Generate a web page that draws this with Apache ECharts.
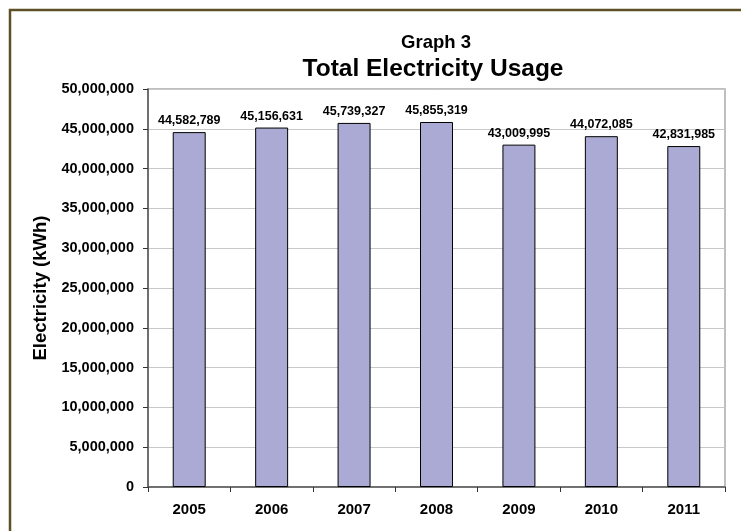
<!DOCTYPE html>
<html>
<head>
<meta charset="utf-8">
<script src="https://cdn.jsdelivr.net/npm/echarts@6/dist/echarts.min.js"></script>
<style>
html,body{margin:0;padding:0;background:#fff;}
#chart{width:741px;height:531px;}
</style>
</head>
<body>
<div id="chart"></div>
<script>
const categories = ['2005','2006','2007','2008','2009','2010','2011'];
const usage = [44582789, 45156631, 45739327, 45855319, 43009995, 44072085, 42831985];
const yTicks = { min: 0, max: 50000000, interval: 5000000 };
const titleLine1 = 'Graph 3';
const titleLine2 = 'Total Electricity Usage';
const yName = 'Electricity (kWh)';

const fmt = v => Number(v).toLocaleString('en-US');
const font = 'Liberation Sans, Arial, sans-serif';

const chart = echarts.init(document.getElementById('chart'));
chart.setOption({
  backgroundColor: '#fff',
  animation: false,
  title: [
    { text: titleLine1, left: 431, top: 28, textAlign: 'center',
      textStyle: { fontFamily: font, fontSize: 18.5, fontWeight: 'bold', color: '#000' } },
    { text: titleLine2, left: 428, top: 52, textAlign: 'center',
      textStyle: { fontFamily: font, fontSize: 24.5, fontWeight: 'bold', color: '#000' } }
  ],
  graphic: [
    { type: 'rect', shape: { x: 10, y: 10, width: 800, height: 600 },
      style: { fill: 'none', stroke: '#5e4f26', lineWidth: 2.5 }, silent: true }
  ],
  grid: { left: 148, top: 89, right: 16, bottom: 44, show: true, borderColor: '#aaa', borderWidth: 1.5, backgroundColor: 'transparent' },
  xAxis: {
    type: 'category',
    data: categories,
    axisLine: { lineStyle: { color: '#555', width: 1.5 } },
    axisTick: { show: true, length: 5, lineStyle: { color: '#333' } },
    axisLabel: { margin: 15, fontFamily: font, fontSize: 15, fontWeight: 'bold', color: '#000' }
  },
  yAxis: {
    type: 'value',
    min: yTicks.min, max: yTicks.max, interval: yTicks.interval,
    name: yName,
    nameLocation: 'middle',
    nameGap: 98,
    nameTextStyle: { fontFamily: font, fontSize: 18.5, fontWeight: 'bold', color: '#000' },
    axisLine: { show: true, lineStyle: { color: '#555', width: 1.5 } },
    axisTick: { show: true, length: 5, lineStyle: { color: '#333' } },
    axisLabel: { margin: 14, fontFamily: font, fontSize: 14.5, fontWeight: 'bold', color: '#000', formatter: v => fmt(v) },
    splitLine: { lineStyle: { color: '#c8c8c8', width: 1 } }
  },
  series: [{
    type: 'bar',
    data: usage,
    barCategoryGap: '60%',
    itemStyle: { color: '#aaaad4', borderColor: '#000', borderWidth: 1 },
    label: { show: true, position: 'top', distance: 5, fontFamily: font, fontSize: 12.5, fontWeight: 'bold', color: '#000', formatter: p => fmt(p.value) }
  }]
});
</script>
</body>
</html>
